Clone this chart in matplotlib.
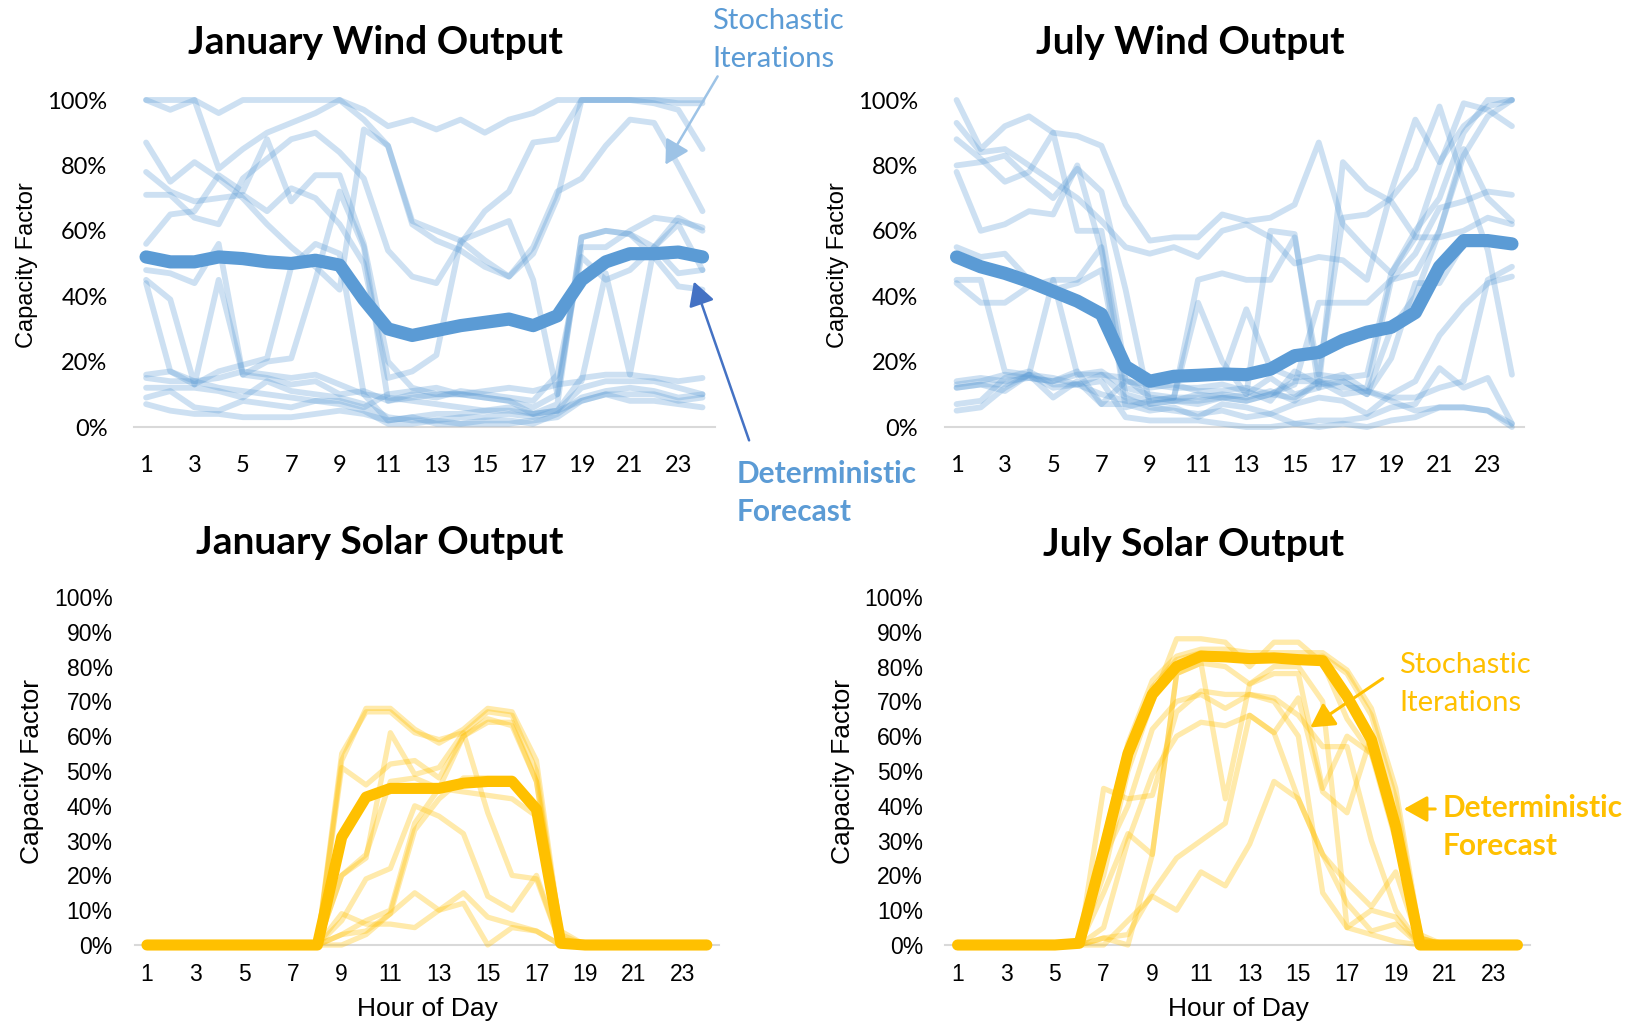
import matplotlib
matplotlib.use("Agg")
import matplotlib.pyplot as plt
from matplotlib.ticker import PercentFormatter

# ---------------- data (capacity factor, %) ----------------
hours = list(range(1, 25))
xtick_hours = list(range(1, 24, 2))

jan_wind_det = [52, 50.5, 50.5, 52, 51.5, 50.5, 50, 51, 49.5, 39, 30, 28, 29.5, 31, 32, 33, 31, 34, 45, 50.5, 53, 53, 53.5, 52]
jan_wind_iters = [
    [100, 97, 100, 96, 100, 100, 100, 100, 100, 97, 92, 94, 91, 94, 90, 94, 96, 100, 100, 100, 100, 100, 99, 99],
    [100, 100, 100, 79, 85, 90, 93, 96, 100, 94, 86, 62, 57, 54, 49, 46, 53, 70, 100, 100, 100, 99, 97, 85],
    [87, 75, 81, 76, 70, 62, 55, 49, 42, 91, 86, 63, 60, 57, 51, 46, 55, 72, 76, 86, 94, 93, 80, 66],
    [78, 72, 69, 70, 71, 66, 73, 70, 62, 50, 15, 17, 22, 57, 60, 63, 45, 10, 58, 60, 59, 52, 43, 42],
    [71, 71, 64, 62, 76, 82, 88, 90, 84, 76, 54, 46, 44, 56, 66, 72, 87, 88, 100, 100, 100, 100, 100, 100],
    [56, 65, 66, 77, 72, 88, 69, 77, 77, 56, 20, 12, 10, 10, 9, 8, 6, 10, 55, 55, 60, 64, 63, 61],
    [48, 47, 44, 56, 16, 20, 21, 45, 72, 55, 8, 10, 9, 11, 10, 9, 8, 16, 52, 45, 48, 55, 64, 60],
    [45, 39, 13, 45, 16, 15, 13, 14, 10, 11, 8, 9, 10, 10, 11, 12, 11, 13, 14, 47, 16, 55, 62, 48],
    [44, 17, 14, 15, 17, 16, 15, 16, 13, 10, 9, 8, 7, 6, 5, 5, 4, 5, 15, 16, 16, 15, 14, 15],
    [16, 17, 13, 17, 19, 21, 49, 56, 53, 10, 2, 3, 4, 4, 5, 6, 4, 7, 58, 60, 59, 55, 47, 48],
    [12, 12, 12, 11, 9, 14, 11, 10, 9, 7, 3, 2, 2, 1, 2, 2, 1, 4, 9, 11, 12, 11, 9, 10],
    [9, 11, 6, 5, 8, 7, 6, 8, 7, 5, 1, 1, 2, 3, 3, 4, 3, 5, 8, 10, 10, 10, 8, 9],
    [7, 5, 4, 4, 3, 3, 3, 4, 5, 4, 2, 3, 1, 1, 1, 1, 2, 3, 8, 10, 8, 8, 7, 6],
    [15, 14, 14, 12, 11, 10, 9, 8, 8, 6, 10, 11, 12, 10, 9, 8, 4, 5, 12, 14, 14, 14, 12, 10],
]

jul_wind_det = [52, 49, 47, 44.5, 41.5, 38.5, 34.5, 18.5, 14, 15.5, 15.8, 16.2, 16, 17.7, 21.8, 22.8, 26.5, 29, 30.5, 35, 49, 57, 57, 56]
jul_wind_iters = [
    [100, 85, 92, 95, 90, 89, 86, 68, 57, 58, 58, 65, 63, 64, 68, 87, 62, 54, 47, 58, 80, 99, 97, 92],
    [93, 84, 85, 80, 75, 70, 63, 55, 53, 55, 52, 60, 62, 58, 50, 52, 51, 45, 72, 94, 81, 92, 98, 100],
    [88, 82, 75, 78, 90, 60, 60, 17, 14, 15, 16, 15, 36, 18, 15, 16, 15, 16, 47, 60, 70, 90, 100, 100],
    [80, 81, 83, 76, 70, 79, 72, 42, 7, 8, 7, 9, 8, 10, 13, 38, 38, 38, 45, 53, 67, 69, 72, 71],
    [78, 60, 62, 66, 65, 80, 54, 6, 8, 9, 45, 47, 45, 45, 58, 16, 64, 65, 70, 79, 98, 75, 54, 16],
    [55, 52, 53, 45, 42, 44, 48, 10, 8, 9, 38, 20, 10, 60, 59, 12, 81, 73, 69, 58, 58, 60, 64, 62],
    [45, 45, 17, 16, 45, 16, 16, 15, 9, 8, 10, 9, 10, 15, 10, 12, 14, 10, 21, 44, 44, 56, 58, 55],
    [44, 38, 38, 43, 45, 45, 55, 14, 12, 13, 11, 11, 12, 10, 14, 14, 12, 12, 45, 47, 60, 85, 70, 63],
    [13, 14, 16, 15, 14, 16, 17, 12, 10, 9, 9, 10, 9, 11, 8, 14, 10, 11, 8, 5, 6, 6, 5, 1],
    [12, 13, 13, 16, 12, 13, 10, 8, 7, 8, 8, 9, 8, 10, 9, 14, 16, 11, 9, 9, 12, 14, 45, 49],
    [7, 8, 15, 17, 13, 13, 16, 9, 6, 5, 4, 5, 3, 4, 7, 9, 8, 4, 10, 14, 28, 37, 44, 46],
    [12, 13, 11, 16, 15, 13, 14, 3, 2, 2, 2, 1, 0, 0, 1, 0, 1, 0, 2, 3, 6, 6, 5, 0],
    [5, 6, 12, 16, 9, 14, 7, 7, 5, 6, 3, 7, 6, 4, 1, 2, 2, 3, 6, 7, 18, 12, 15, 1],
    [14, 15, 14, 15, 14, 17, 7, 14, 13, 12, 12, 13, 11, 8, 17, 13, 14, 10, 30, 40, 60, 83, 95, 100],
]

jan_solar_det = [0, 0, 0, 0, 0, 0, 0, 0, 31, 42.5, 45, 45, 45, 46.5, 47, 47, 39, 0.5, 0, 0, 0, 0, 0, 0]
jan_solar_iters = [
    [0, 0, 0, 0, 0, 0, 0, 0, 53, 68, 68, 62, 58, 62, 68, 67, 53, 3, 0, 0, 0, 0, 0, 0],
    [0, 0, 0, 0, 0, 0, 0, 0, 55, 67, 67, 61, 59, 61, 67, 66, 50, 2, 0, 0, 0, 0, 0, 0],
    [0, 0, 0, 0, 0, 0, 0, 0, 51, 46, 52, 53, 48, 60, 65, 63, 47, 0, 0, 0, 0, 0, 0, 0],
    [0, 0, 0, 0, 0, 0, 0, 0, 20, 26, 47, 48, 45, 44, 43, 42, 37, 0, 0, 0, 0, 0, 0, 0],
    [0, 0, 0, 0, 0, 0, 0, 0, 7, 19, 22, 40, 37, 32, 14, 10, 20, 0, 0, 0, 0, 0, 0, 0],
    [0, 0, 0, 0, 0, 0, 0, 0, 0, 3, 9, 33, 42, 48, 48, 48, 40, 0, 0, 0, 0, 0, 0, 0],
    [0, 0, 0, 0, 0, 0, 0, 0, 9, 6, 6, 5, 10, 12, 0, 5, 4, 0, 0, 0, 0, 0, 0, 0],
    [0, 0, 0, 0, 0, 0, 0, 0, 3, 4, 9, 15, 10, 15, 8, 6, 4, 0, 0, 0, 0, 0, 0, 0],
    [0, 0, 0, 0, 0, 0, 0, 0, 20, 25, 61, 49, 51, 61, 38, 20, 19, 0, 0, 0, 0, 0, 0, 0],
    [0, 0, 0, 0, 0, 0, 0, 0, 3, 7, 10, 35, 45, 60, 64, 64, 47, 4, 0, 0, 0, 0, 0, 0],
]

jul_solar_det = [0, 0, 0, 0, 0, 0.5, 27, 55, 72, 80, 83, 82.8, 82.3, 82.5, 82, 81.7, 71.4, 59, 34, 0, 0, 0, 0, 0]
jul_solar_iters = [
    [0, 0, 0, 0, 0, 0, 30, 58, 76, 83, 85, 85, 84, 84, 84, 84, 79, 68, 45, 3, 0, 0, 0, 0],
    [0, 0, 0, 0, 0, 0, 28, 55, 74, 82, 84, 83, 82, 83, 82, 83, 78, 66, 42, 2, 0, 0, 0, 0],
    [0, 0, 0, 0, 0, 0, 20, 50, 70, 88, 88, 87, 80, 87, 87, 81, 65, 55, 35, 2, 0, 0, 0, 0],
    [0, 0, 0, 0, 0, 0, 2, 0, 26, 78, 81, 42, 75, 78, 78, 45, 60, 55, 30, 0, 0, 0, 0, 0],
    [0, 0, 0, 0, 0, 0, 45, 42, 43, 67, 73, 72, 72, 71, 66, 57, 57, 30, 10, 0, 0, 0, 0, 0],
    [0, 0, 0, 0, 0, 0, 5, 30, 49, 60, 64, 63, 66, 61, 71, 44, 38, 60, 35, 2, 0, 0, 0, 0],
    [0, 0, 0, 0, 0, 0, 0, 7, 14, 10, 21, 17, 29, 47, 42, 26, 18, 11, 21, 0, 0, 0, 0, 0],
    [0, 0, 0, 0, 0, 0, 2, 3, 15, 25, 30, 35, 66, 61, 42, 26, 12, 4, 6, 0, 0, 0, 0, 0],
    [0, 0, 0, 0, 0, 0, 15, 32, 26, 78, 81, 80, 75, 80, 80, 70, 5, 10, 8, 0, 0, 0, 0, 0],
    [0, 0, 0, 0, 0, 0, 25, 40, 62, 70, 72, 68, 72, 70, 60, 15, 5, 3, 1, 0, 0, 0, 0, 0],
]

titles = ["January Wind Output", "July Wind Output", "January Solar Output", "July Solar Output"]

# ---------------- style ----------------
BLUE = "#5B9BD5"
GOLD = "#FFC000"
GRID = "#D9D9D9"
CAL = ["Lato", "DejaVu Sans"]
ARIAL = ["Liberation Sans", "DejaVu Sans"]

fig = plt.figure(figsize=(16.34, 10.23), dpi=100)
W, H = 1634, 1023


def make_ax(x0, x1, ytop, ybot):
    return fig.add_axes([x0 / W, 1 - ybot / H, (x1 - x0) / W, (ybot - ytop) / H])


# ax, det, iters, colour, y-step, tick font, tick size, alpha, iter lw, det lw, ypad, xpad
panels = [
    (make_ax(134, 714.6, 100, 427), jan_wind_det, jan_wind_iters, BLUE, 20, CAL, 17, 0.30, 4.2, 9.5, 19, 20),
    (make_ax(944.5, 1524, 100, 427), jul_wind_det, jul_wind_iters, BLUE, 20, CAL, 17, 0.30, 4.2, 9.5, 19, 20),
    (make_ax(134.8, 719, 597, 945), jan_solar_det, jan_solar_iters, GOLD, 10, ARIAL, 16.5, 0.33, 3.8, 8, 16, 13),
    (make_ax(945.4, 1529.6, 597, 945), jul_solar_det, jul_solar_iters, GOLD, 10, ARIAL, 16.5, 0.33, 3.8, 8, 16, 13),
]

for ax, det, iters, col, step, tfont, tsize, alpha, lw_it, lw_det, ypad, xpad in panels:
    for it in iters:
        ax.plot(hours, it, color=col, alpha=alpha, lw=lw_it, clip_on=False,
                solid_joinstyle="round", solid_capstyle="round", zorder=2)
    ax.plot(hours, det, color=col, lw=lw_det, clip_on=False,
            solid_joinstyle="round", solid_capstyle="round", zorder=3)
    ax.set_xlim(0.5, 24.5)
    ax.set_ylim(0, 100)
    ax.set_yticks(list(range(0, 101, step)))
    ax.yaxis.set_major_formatter(PercentFormatter(100, decimals=0))
    ax.set_xticks(xtick_hours)
    ax.tick_params(length=0, labelsize=tsize)
    ax.tick_params(axis="y", pad=ypad)
    ax.tick_params(axis="x", pad=xpad)
    for lab in ax.get_xticklabels() + ax.get_yticklabels():
        lab.set_family(tfont)
    for s in ["top", "right", "left"]:
        ax.spines[s].set_visible(False)
    ax.spines["bottom"].set_color(GRID)
    ax.spines["bottom"].set_linewidth(1.5)
    ax.spines["bottom"].set_zorder(1)
    ax.set_facecolor("none")

# y labels
for x, y, fs in [(27, 265, 17), (838, 265, 17), (32, 771, 19), (843, 771, 19)]:
    fig.text(x / W, 1 - y / H, "Capacity Factor", rotation=90, ha="center", va="center",
             family=ARIAL, fontsize=fs)
# x labels
fig.text(427 / W, 1 - 1009 / H, "Hour of Day", ha="center", va="center", family=ARIAL, fontsize=19)
fig.text(1238 / W, 1 - 1009 / H, "Hour of Day", ha="center", va="center", family=ARIAL, fontsize=19)

# titles
for (x, y), t in zip([(375, 43), (1190, 43), (380, 542), (1194, 545)], titles):
    fig.text(x / W, 1 - y / H, t, ha="center", va="center", family=CAL,
             fontsize=28, fontweight="bold")

# annotations
fig.text(712 / W, 1 - 40 / H, "Stochastic\nIterations", ha="left", va="center", family=CAL,
         fontsize=21, color=BLUE, linespacing=1.55)
fig.text(737 / W, 1 - 493 / H, "Deterministic\nForecast", ha="left", va="center", family=CAL,
         fontsize=21.5, color=BLUE, fontweight="bold", linespacing=1.45)
fig.text(1399 / W, 1 - 684 / H, "Stochastic\nIterations", ha="left", va="center", family=CAL,
         fontsize=21, color=GOLD, linespacing=1.55)
fig.text(1443 / W, 1 - 827 / H, "Deterministic\nForecast", ha="left", va="center", family=CAL,
         fontsize=21.5, color=GOLD, fontweight="bold", linespacing=1.45)


def arrow(x0, y0, x1, y1, color, lw=1.5):
    fig.add_artist(matplotlib.patches.FancyArrowPatch(
        (x0 / W, 1 - y0 / H), (x1 / W, 1 - y1 / H), transform=fig.transFigure,
        arrowstyle="-|>,head_length=9,head_width=5", mutation_scale=1.6,
        color=color, lw=lw))


arrow(719, 74, 664, 167, "#9DC3E6", 1.8)
arrow(750, 443, 693, 279, "#4472C4", 1.8)
arrow(1385, 677, 1308, 729, GOLD, 2.2)
arrow(1438, 809, 1401, 809, GOLD, 2.2)

fig.savefig("out.png", dpi=100)
